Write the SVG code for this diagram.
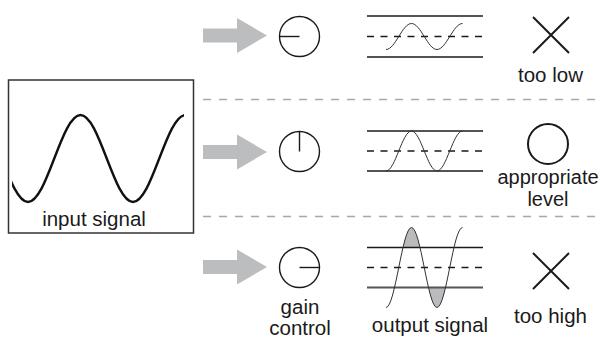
<svg xmlns="http://www.w3.org/2000/svg" width="603" height="343" viewBox="0 0 603 343">
<style>
.t{font-family:"Liberation Sans",Arial,Helvetica,sans-serif;font-size:20.5px;fill:#1a1a1a;text-anchor:middle}
.arrow{fill:#bcbdbf}
.dial{fill:none;stroke:#1a1a1a;stroke-width:1.4}
.sep{stroke:#a8a8a8;stroke-width:1.5;stroke-dasharray:8 8;fill:none}
.lineA{stroke:#555;stroke-width:2}
.lineB{stroke:#1a1a1a;stroke-width:1.5}
.mid{stroke:#1a1a1a;stroke-width:1.4;stroke-dasharray:7 6.5}
.wave{fill:none;stroke:#333;stroke-width:1}
.shade{fill:#bbbbbd}
.mark{fill:none;stroke:#1a1a1a;stroke-width:2}
</style>
<defs>
<clipPath id="inclip"><rect x="12" y="80" width="172" height="150"/></clipPath>
<clipPath id="topclip"><rect x="380" y="200" width="90" height="47.5"/></clipPath>
<clipPath id="botclip"><rect x="380" y="287.5" width="90" height="40"/></clipPath>
</defs>

<g id="separators">
<line class="sep" x1="203" y1="99.5" x2="600" y2="99.5"/>
<line class="sep" x1="203" y1="216.5" x2="600" y2="216.5"/>
</g>

<g id="input">
<rect x="8.5" y="80" width="185" height="153" fill="none" stroke="#333" stroke-width="1.5"/>
<path clip-path="url(#inclip)" d="M-24.5,115 C-5.42,115 8.92,202 28,202 C47.08,202 61.42,115 80.5,115 C99.58,115 113.92,202 133,202 C152.08,202 166.42,115 185.5,115" fill="none" stroke="#111" stroke-width="2.4"/>
<text class="t" x="94" y="226">input signal</text>
</g>

<g id="connectors">
<polygon class="arrow" points="203,28.5 237,28.5 237,18 267,35.5 237,53 237,42.5 203,42.5"/>
<polygon class="arrow" points="203,145 237,145 237,134.5 267,152 237,169.5 237,159 203,159"/>
<polygon class="arrow" points="203,260 237,260 237,249.5 267,267 237,284.5 237,274 203,274"/>
</g>

<g id="gain1">
<circle class="dial" cx="299.5" cy="36.5" r="20"/>
<line class="dial" x1="299.5" y1="36.5" x2="279.5" y2="36.5"/>
</g>
<g id="gain2">
<circle class="dial" cx="299.5" cy="151.5" r="20"/>
<line class="dial" x1="299.5" y1="151.5" x2="299.5" y2="131.5"/>
</g>
<g id="gain3">
<circle class="dial" cx="299.5" cy="267.5" r="20"/>
<line class="dial" x1="299.5" y1="267.5" x2="319.5" y2="267.5"/>
<text class="t" x="300" y="314">gain</text>
<text class="t" x="300" y="335">control</text>
</g>

<g id="output1">
<line class="lineA" x1="367" y1="16" x2="483" y2="16"/>
<line class="mid" x1="367" y1="36.5" x2="483" y2="36.5"/>
<line class="lineB" x1="367" y1="57" x2="483" y2="57"/>
<path class="wave" d="M386,49.5 C395.3,49.5 402.2,23.5 411.5,23.5 C420.8,23.5 427.7,49.5 437,49.5 C446.3,49.5 453.2,23.5 462.5,23.5"/>
</g>
<g id="output2">
<line class="lineA" x1="367" y1="131" x2="483" y2="131"/>
<line class="mid" x1="367" y1="151" x2="483" y2="151"/>
<line class="lineB" x1="367" y1="171" x2="483" y2="171"/>
<path class="wave" d="M386,171 C395.3,171 402.2,131 411.5,131 C420.8,131 427.7,171 437,171 C446.3,171 453.2,131 462.5,131"/>
</g>
<g id="output3">
<path class="shade" clip-path="url(#topclip)" d="M386,307.5 C395.3,307.5 402.2,227.5 411.5,227.5 C420.8,227.5 427.7,307.5 437,307.5 Z"/>
<path class="shade" clip-path="url(#botclip)" d="M411.5,227.5 C420.8,227.5 427.7,307.5 437,307.5 C446.3,307.5 453.2,227.5 462.5,227.5 Z"/>
<line class="lineB" x1="367" y1="247.5" x2="483" y2="247.5"/>
<line class="mid" x1="367" y1="267.5" x2="483" y2="267.5"/>
<line class="lineA" x1="367" y1="287.5" x2="483" y2="287.5"/>
<path class="wave" d="M386,307.5 C395.3,307.5 402.2,227.5 411.5,227.5 C420.8,227.5 427.7,307.5 437,307.5 C446.3,307.5 453.2,227.5 462.5,227.5"/>
<text class="t" x="430" y="332">output signal</text>
</g>

<g id="result1">
<path class="mark" d="M533,17 L569,53 M569,17 L533,53"/>
<text class="t" x="550.5" y="82">too low</text>
</g>
<g id="result2">
<circle class="mark" cx="548" cy="144" r="20" stroke-width="2.5"/>
<text class="t" x="548" y="184" style="font-size:20px">appropriate</text>
<text class="t" x="548" y="206" style="font-size:20px">level</text>
</g>
<g id="result3">
<path class="mark" d="M533,253 L569,289 M569,253 L533,289"/>
<text class="t" x="550.5" y="323">too high</text>
</g>
</svg>
